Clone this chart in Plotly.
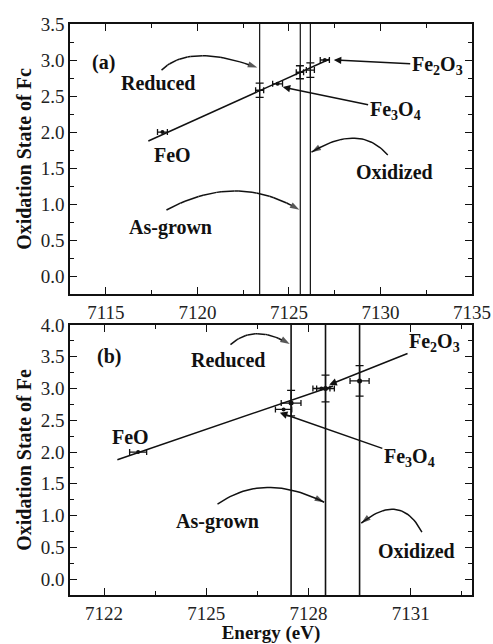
import plotly.graph_objects as go

# ---------------- data: panel (a) ----------------
a_ref_names = ["FeO", "Fe3O4", "Fe2O3"]
a_ref_x = [7118.09, 7124.38, 7126.96]
a_ref_y = [2.0, 2.67, 3.0]
a_ref_xerr = [0.27, 0.27, 0.25]

a_smp_names = ["Reduced", "As-grown", "Oxidized"]
a_smp_x = [7123.4, 7125.6, 7126.17]
a_smp_y = [2.58, 2.83, 2.86]
a_smp_xerr = [0.22, 0.2, 0.22]
a_smp_yerr = [0.1, 0.09, 0.1]

a_fit_x = [7117.32, 7127.2]
a_fit_y = [1.875, 3.01]
a_vlines = [7123.4, 7125.62, 7126.17]

# ---------------- data: panel (b) ----------------
b_ref_names = ["FeO", "Fe3O4", "Fe2O3"]
b_ref_x = [7123.0, 7127.27, 7128.38]
b_ref_y = [2.0, 2.67, 3.0]
b_ref_xerr = [0.25, 0.24, 0.25]

b_smp_names = ["Reduced", "As-grown", "Oxidized"]
b_smp_x = [7127.49, 7128.5, 7129.5]
b_smp_y = [2.77, 3.0, 3.12]
b_smp_xerr = [0.29, 0.26, 0.28]
b_smp_yerr = [0.2, 0.21, 0.24]

b_fit_x = [7122.39, 7128.72]
b_fit_y = [1.88, 3.04]
b_vlines = [7127.49, 7128.5, 7129.5]

FONT = "Liberation Serif"
BLACK = "#111111"

fig = go.Figure()

def add_panel(xa, ya, fx, fy, rx, ry, rxe, sx, sy, sxe, sye, smp_marker):
    fig.add_trace(go.Scatter(x=fx, y=fy, mode="lines", xaxis=xa, yaxis=ya,
                             line=dict(color=BLACK, width=1.5), showlegend=False))
    fig.add_trace(go.Scatter(x=rx, y=ry, mode="markers", xaxis=xa, yaxis=ya,
                             marker=dict(color=BLACK, size=4, symbol="circle"),
                             error_x=dict(type="data", array=rxe, color=BLACK, thickness=1.3, width=3),
                             showlegend=False))
    fig.add_trace(go.Scatter(x=sx, y=sy, mode="markers", xaxis=xa, yaxis=ya,
                             marker=smp_marker,
                             error_x=dict(type="data", array=sxe, color=BLACK, thickness=1.3, width=3),
                             error_y=dict(type="data", array=sye, color=BLACK, thickness=1.3, width=4),
                             showlegend=False))

add_panel("x", "y", a_fit_x, a_fit_y, a_ref_x, a_ref_y, a_ref_xerr,
          a_smp_x, a_smp_y, a_smp_xerr, a_smp_yerr,
          dict(color="rgba(0,0,0,0)", size=7, symbol="square-open", line=dict(color=BLACK, width=1.2)))
add_panel("x2", "y2", b_fit_x, b_fit_y, b_ref_x, b_ref_y, b_ref_xerr,
          b_smp_x, b_smp_y, b_smp_xerr, b_smp_yerr,
          dict(color=BLACK, size=5, symbol="circle"))

shapes = []
for v in a_vlines:
    shapes.append(dict(type="line", xref="x", yref="y domain", x0=v, x1=v, y0=0, y1=1,
                       line=dict(color=BLACK, width=1.2)))
for v in b_vlines:
    shapes.append(dict(type="line", xref="x2", yref="y2 domain", x0=v, x1=v, y0=0, y1=1,
                       line=dict(color=BLACK, width=1.6)))

def curved_arrow(xa, ya, p0, c, p1, n=30):
    xs, ys = [], []
    for i in range(n + 1):
        t = i / n
        xs.append((1 - t) ** 2 * p0[0] + 2 * (1 - t) * t * c[0] + t ** 2 * p1[0])
        ys.append((1 - t) ** 2 * p0[1] + 2 * (1 - t) * t * c[1] + t ** 2 * p1[1])
    sizes = [0] * n + [10]
    fig.add_trace(go.Scatter(x=xs, y=ys, mode="lines+markers", xaxis=xa, yaxis=ya,
                             line=dict(color=BLACK, width=1.5),
                             marker=dict(symbol="arrow", angleref="previous", size=sizes,
                                         color=BLACK, line=dict(width=0)),
                             hoverinfo="skip", showlegend=False))

# panel (a) curved arrows
curved_arrow("x", "y", (7118.04, 2.86), (7119.57, 3.24), (7123.27, 2.895))
curved_arrow("x", "y", (7130.4, 1.68), (7128.87, 2.13), (7126.23, 1.72))
curved_arrow("x", "y", (7118.31, 0.917), (7122.11, 1.444), (7125.57, 0.92))
# panel (b) curved arrows
curved_arrow("x2", "y2", (7125.71, 3.69), (7126.41, 4.03), (7127.45, 3.70))
curved_arrow("x2", "y2", (7125.33, 1.18), (7126.68, 1.69), (7128.46, 1.21))
curved_arrow("x2", "y2", (7131.33, 0.74), (7130.7, 1.38), (7129.55, 0.88))

anns = []
LFONT = dict(family=FONT, size=20, color=BLACK)

def label(xr, yr, x, y, text, size=20):
    anns.append(dict(xref=xr, yref=yr, x=x, y=y, text=text, showarrow=False,
                     font=dict(family=FONT, size=size, color=BLACK)))

def arrow_label(xr, yr, head, center, text):
    anns.append(dict(xref=xr, yref=yr, axref=xr, ayref=yr, x=head[0], y=head[1],
                     ax=center[0], ay=center[1], text=text, showarrow=True, arrowhead=2,
                     arrowsize=1.0, arrowwidth=1.5, arrowcolor=BLACK, font=LFONT,
                     standoff=0, startstandoff=0))

# panel (a) labels
label("x", "y", 7114.86, 2.97, "<b>(a)</b>")
label("x", "y", 7117.82, 2.68, "<b>Reduced</b>")
arrow_label("x", "y", (7127.45, 3.0), (7133.1, 2.93), "<b>Fe<sub>2</sub>O<sub>3</sub></b>")
arrow_label("x", "y", (7124.66, 2.625), (7130.8, 2.30), "<b>Fe<sub>3</sub>O<sub>4</sub></b>")
label("x", "y", 7130.79, 1.44, "<b>Oxidized</b>")
label("x", "y", 7118.53, 0.68, "<b>As-grown</b>")
label("x", "y", 7118.64, 1.68, "<b>FeO</b>")

# panel (b) labels
label("x2", "y2", 7122.14, 3.5, "<b>(b)</b>")
label("x2", "y2", 7125.65, 3.45, "<b>Reduced</b>")
arrow_label("x2", "y2", (7128.61, 3.06), (7131.7, 3.72), "<b>Fe<sub>2</sub>O<sub>3</sub></b>")
arrow_label("x2", "y2", (7127.16, 2.62), (7130.96, 1.91), "<b>Fe<sub>3</sub>O<sub>4</sub></b>")
label("x2", "y2", 7125.33, 0.91, "<b>As-grown</b>")
label("x2", "y2", 7131.16, 0.44, "<b>Oxidized</b>")
label("x2", "y2", 7122.78, 2.24, "<b>FeO</b>")

tickfont = dict(family=FONT, size=19, color="#222222")

def xaxis(rng, dtick, mdtick, t0, anchor, title=None):
    d = dict(range=rng, dtick=dtick, tick0=t0, showgrid=False, zeroline=False,
             showline=True, linecolor=BLACK, linewidth=1.5, mirror="ticks",
             ticks="inside", ticklen=7, tickwidth=1.2, tickcolor=BLACK,
             minor=dict(ticks="inside", ticklen=4, dtick=mdtick, tick0=t0, tickcolor=BLACK, tickwidth=1.1),
             tickfont=tickfont, anchor=anchor)
    if title:
        d["title"] = dict(text=title, font=dict(family=FONT, size=19, color=BLACK), standoff=2)
    return d

def yaxis(rng, domain, anchor, title):
    return dict(range=rng, domain=domain, dtick=0.5, tick0=0, showgrid=False, zeroline=False,
                showline=True, linecolor=BLACK, linewidth=1.5, mirror="ticks",
                ticks="inside", ticklen=7, tickwidth=1.2, tickcolor=BLACK,
                minor=dict(ticks="inside", ticklen=4, dtick=0.25, tick0=0, tickcolor=BLACK, tickwidth=1.1),
                tickfont=tickfont, tickformat=".1f", anchor=anchor,
                title=dict(text=title, font=dict(family=FONT, size=20, color=BLACK), standoff=4))

fig.update_layout(
    width=493, height=644,
    margin=dict(l=70, r=21, t=24, b=49, autoexpand=False),
    paper_bgcolor="white", plot_bgcolor="white",
    xaxis=xaxis([7113.04, 7135.0], 5, 2.5, 7100, "y"),
    yaxis=yaxis([-0.25, 3.5], [0.527, 1.0], "x", "<b>Oxidation State of Fc</b>"),
    xaxis2=xaxis([7121.0, 7132.8], 3, 1.5, 7122, "y2", "<b>Energy (eV)</b>"),
    yaxis2=yaxis([-0.25, 4.0], [0.0, 0.4729], "x2", "<b>Oxidation State of Fe</b>"),
    shapes=shapes, annotations=anns, showlegend=False,
)

fig.write_html("out.html")
